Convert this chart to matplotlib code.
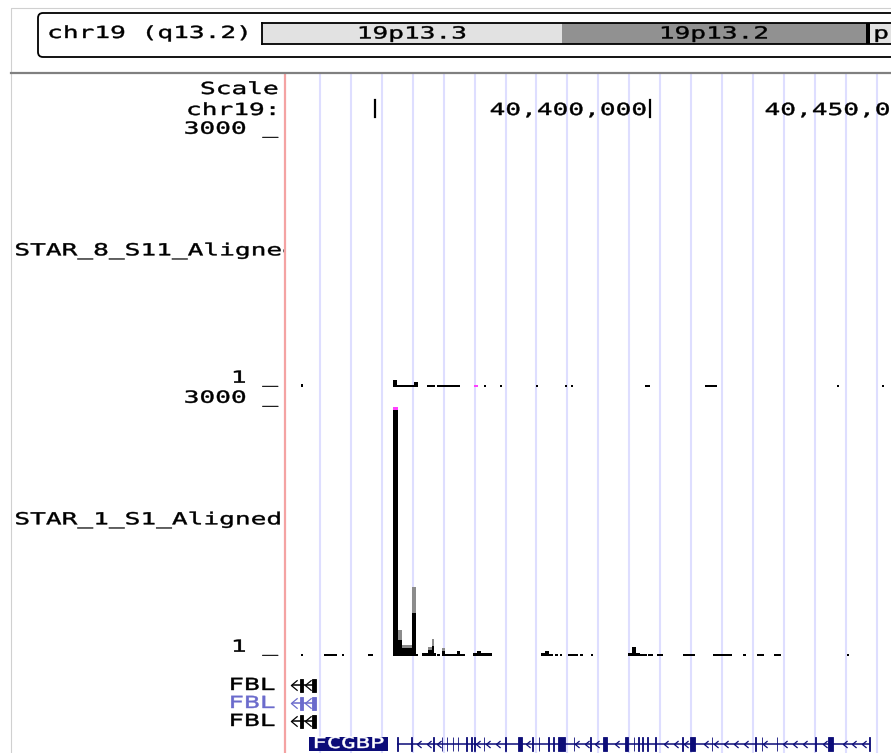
import numpy as np
import matplotlib
matplotlib.use("Agg")
import matplotlib.pyplot as plt
import matplotlib.patheffects as pe
from matplotlib.patches import Rectangle, FancyBboxPatch
from matplotlib.path import Path
from matplotlib.transforms import Affine2D

# ---------------- data ----------------
# chr19 ideogram bands (Mb)
band_names = ["19p13.3", "19p13.2", "19p13.13", "19p13.12"]
band_start = [0.0, 6.9, 13.9, 14.0]
band_end = [6.9, 13.9, 14.0, 16.3]
band_stain = ["gneg", "gpos50", "gpos100", "gneg"]

# browser window (kb on chr19)
view_start = 40333.6
view_end = 40443.8
ruler_ticks = [40350000, 40400000, 40450000]

track_names = ["STAR_8_S11_Aligned", "STAR_1_S1_Aligned"]
view_limits = [1, 3000]

# STAR_8_S11 signal (kb start, kb end, value, clipped flag)
t1_start = [40336.5, 40353.3, 40353.9, 40357.0, 40359.5, 40361.3, 40368.0, 40369.8,
            40372.7, 40379.3, 40384.6, 40385.6, 40399.1, 40410.0, 40434.0, 40442.2]
t1_end = [40336.9, 40353.9, 40357.0, 40357.7, 40360.9, 40365.5, 40368.7, 40370.2,
          40373.1, 40379.6, 40384.9, 40386.0, 40400.0, 40412.2, 40434.4, 40442.5]
t1_val = [36, 85, 25, 60, 25, 25, 25, 25, 25, 25, 25, 25, 25, 25, 25, 25]
t1_flag = [0, 0, 0, 0, 0, 0, 1, 0, 0, 0, 0, 0, 0, 0, 0, 0]

# STAR_1_S1 signal (kb start, kb end, max in window, mean in window)
t2_start = [40336.5, 40340.7, 40344.0, 40348.7, 40353.3, 40354.2, 40354.9, 40356.7,
            40357.5, 40358.6, 40359.6, 40360.4, 40360.7, 40361.3, 40362.2, 40362.7,
            40364.9, 40365.5, 40367.8, 40368.6, 40369.3, 40380.2, 40380.9, 40381.6,
            40382.7, 40383.6, 40385.1, 40387.3, 40389.3, 40396.0, 40396.7, 40397.5,
            40398.2, 40399.6, 40401.3, 40406.0, 40411.5, 40416.9, 40419.5, 40422.5,
            40435.8]
t2_end = [40336.9, 40343.1, 40344.4, 40349.6, 40354.2, 40354.9, 40356.7, 40357.5,
          40357.8, 40359.6, 40360.4, 40360.7, 40361.1, 40361.8, 40362.7, 40364.9,
          40365.5, 40366.4, 40368.6, 40369.3, 40371.3, 40380.9, 40381.6, 40382.4,
          40383.3, 40384.0, 40386.9, 40387.7, 40389.7, 40396.7, 40397.5, 40398.2,
          40399.5, 40400.6, 40402.4, 40408.2, 40414.9, 40417.5, 40420.7, 40423.8,
          40436.2]
t2_max = [25, 25, 25, 25, 3100, 315, 133, 835, 25, 36, 109, 206, 36, 25, 97, 25,
          60, 25, 36, 60, 36, 36, 60, 25, 25, 25, 25, 25, 25, 36, 109, 36,
          25, 25, 25, 25, 25, 25, 25, 25, 25]
t2_mean = [25, 25, 25, 25, 3100, 194, 97, 520, 25, 36, 73, 121, 36, 25, 60, 25,
           60, 25, 36, 60, 36, 36, 60, 25, 25, 25, 25, 25, 25, 36, 109, 36,
           25, 25, 25, 25, 25, 25, 25, 25, 25]

# genes (kb)
fbl_span = [40334.9, 40339.3]
fbl_exon_start = [40336.3, 40338.5]
fbl_exon_end = [40336.8, 40339.3]
fbl_rows = ["FBL", "FBL", "FBL"]

fcgbp_span = [40353.95, 40440.0]
fcgbp_exon_start = [40353.95, 40356.6, 40360.6, 40362.1, 40363.0, 40364.1, 40364.97,
                    40366.5, 40367.4, 40368.0, 40369.7, 40373.6, 40375.9, 40378.5,
                    40379.7, 40381.5, 40382.4, 40383.3, 40386.1, 40389.1, 40391.5,
                    40395.5, 40397.0, 40397.8, 40398.5, 40399.4, 40400.9, 40405.8,
                    40407.3, 40411.2, 40419.1, 40420.3, 40423.0, 40430.0, 40432.4,
                    40439.8]
fcgbp_exon_end = [40354.1, 40356.7, 40360.7, 40362.2, 40363.1, 40364.2, 40365.1,
                  40366.6, 40367.5, 40368.1, 40369.8, 40373.7, 40376.7, 40378.6,
                  40379.8, 40381.6, 40382.5, 40384.5, 40386.2, 40389.2, 40392.1,
                  40395.9, 40397.1, 40397.9, 40398.6, 40399.5, 40401.0, 40405.9,
                  40408.1, 40411.3, 40419.2, 40420.4, 40423.1, 40430.1, 40433.3,
                  40440.0]

# ---------------- style ----------------
FIG_W, FIG_H = 891, 753
FONT = "DejaVu Sans Mono"
STRETCH = 1.57
stain_color = {"gneg": "#e2e2e2", "gpos25": "#c8c8c8", "gpos50": "#919191", "gpos100": "#000000"}
GUIDE = "#dedeff"
NAVY = "#0c0c78"


class Stretch(pe.AbstractPathEffect):
    # UCSC font is wide and a bit heavy: widen glyphs around the anchor, add a thin outline
    def __init__(self, sx, anchor="left"):
        super().__init__()
        self.sx = sx
        self.anchor = anchor

    def draw_path(self, renderer, gc, tpath, affine, rgbFace=None):
        ext = tpath.get_extents()
        x0 = {"left": ext.x0, "right": ext.x1, "center": 0.5 * (ext.x0 + ext.x1)}[self.anchor]
        t = Affine2D().translate(-x0, 0).scale(self.sx, 1).translate(x0, 0) + affine
        gc0 = renderer.new_gc()
        gc0.copy_properties(gc)
        gc0.set_linewidth(0.3)
        gc0.set_foreground(rgbFace)
        renderer.draw_path(gc0, tpath, t, rgbFace)
        gc0.restore()


def label(ax, x, y, s, ha="left", size=12, color="black", **kw):
    return ax.text(x, y, s, ha=ha, va="center", family=FONT, fontsize=size, color=color,
                   path_effects=[Stretch(STRETCH, ha)], **kw)


def px_axes(x0, y0, x1, y1):
    a = fig.add_axes([x0 / FIG_W, 1 - y1 / FIG_H, (x1 - x0) / FIG_W, (y1 - y0) / FIG_H])
    a.set_facecolor("none")
    return a


fig = plt.figure(figsize=(FIG_W / 100, FIG_H / 100), dpi=100)

# base layer in pixel coords
ax = fig.add_axes([0, 0, 1, 1])
ax.set_xlim(0, FIG_W)
ax.set_ylim(FIG_H, 0)
ax.axis("off")

# header frame
ax.plot([11, 11, FIG_W], [FIG_H, 8, 8], color="#d0d0d0", lw=0.8)
ax.plot([11, FIG_W], [72.5, 72.5], color="#808080", lw=1.6)
ax.add_patch(FancyBboxPatch((38, 13), 900, 44, boxstyle="round,pad=0,rounding_size=5",
                            fc="white", ec="black", lw=1.3))
label(ax, 48, 33, "chr19 (q13.2)")

# guides + red line
for gxp in np.arange(320, FIG_W, 30.92):
    ax.plot([gxp, gxp], [75, FIG_H], color=GUIDE, lw=1.5, zorder=0)
ax.plot([285, 285], [75, FIG_H], color="#f4a3a3", lw=1.6, zorder=1)

# ideogram
ix = px_axes(262, 23, FIG_W, 44)
ix.set_xlim(0, (FIG_W - 262) / 43.46)
ix.set_ylim(0, 1)
ix.barh(0.5, np.subtract(band_end, band_start), left=band_start, height=1,
        color=[stain_color[s] for s in band_stain])
for name, s, e, st in zip(band_names, band_start, band_end, band_stain):
    bw = (e - s) * 43.46
    txt = name if len(name) * 15.6 < bw else (name[2:] if len(name[2:]) * 15.6 < bw else "")
    if txt:
        label(ix, (s + e) / 2, 0.5, txt, ha="center", clip_on=True,
              color="white" if st == "gpos100" else "black")
ix.set_xticks([])
ix.set_yticks([])
for side in ["top", "bottom", "left"]:
    ix.spines[side].set_linewidth(1.3)
ix.spines["right"].set_visible(False)

# genome axes (ruler and genes), y in pixels
gx = px_axes(285, 75, FIG_W, FIG_H)
gx.set_xlim(view_start * 1000, view_end * 1000)
gx.set_ylim(FIG_H, 75)
gx.axis("off")

label(ax, 278, 89, "Scale", ha="right")
label(ax, 278, 110, "chr19:", ha="right")
kb_per_px = (view_end - view_start) / (FIG_W - 285)
for t in ruler_ticks:
    gx.plot([t, t], [100, 117], color="black", lw=1.6, clip_on=False)
    s = f"{t:,}"
    left_kb = t / 1000 - (4 + len(s) * 15.6) * kb_per_px
    if left_kb > view_start:
        label(gx, t - 4 * kb_per_px * 1000, 110, s, ha="right")

# signal tracks
tops = [138, 407]
bottoms = [387, 656]
clip = Rectangle((0, 0), 284, FIG_H, transform=ax.transData)
for i, name in enumerate(track_names):
    top, bot = tops[i], bottoms[i]
    label(ax, 278, top - 9, f"{view_limits[1]} _", ha="right")
    label(ax, 278, bot - 9, f"{view_limits[0]} _", ha="right")
    t = label(ax, 15, (top + bot) / 2 - 12, name, ha="left", clip_on=True)
    t.set_clip_path(clip)

t1ax = px_axes(285, tops[0], FIG_W, bottoms[0])
t2ax = px_axes(285, tops[1], FIG_W, bottoms[1])
for a in (t1ax, t2ax):
    a.set_xlim(view_start, view_end)
    a.set_ylim(0, view_limits[1])
    a.axis("off")

w1 = np.subtract(t1_end, t1_start)
c1 = ["#ff40ff" if f else "black" for f in t1_flag]
t1ax.bar(t1_start, t1_val, width=w1, align="edge", color=c1, lw=0)

w2 = np.subtract(t2_end, t2_start)
t2ax.bar(t2_start, t2_max, width=w2, align="edge", color="#8c8c8c", lw=0)
t2ax.bar(t2_start, t2_mean, width=w2, align="edge", color="black", lw=0)
for s, wd, m in zip(t2_start, w2, t2_max):
    if m > view_limits[1]:
        t2ax.bar(s, 40, bottom=view_limits[1] - 40, width=wd, align="edge", color="#ff40ff", lw=0)

# genes
chev = Path([(0.6, 1.0), (-0.6, 0.0), (0.6, -1.0)], [Path.MOVETO, Path.LINETO, Path.LINETO])


def draw_gene(y, span, ex_s, ex_e, color, h, step, ms):
    gx.plot(np.multiply(span, 1000), [y, y], color=color, lw=1.1, solid_capstyle="butt")
    w = np.maximum(np.subtract(ex_e, ex_s), 0.12) * 1000
    gx.bar(np.multiply(ex_s, 1000), h, width=w, bottom=y - h / 2, align="edge",
           color=color, ec=color, lw=0.6)
    xs = []
    for x in np.arange(span[0] + 0.4, span[1], step):
        if all(x < s - 0.5 or x > e + 0.5 for s, e in zip(ex_s, ex_e)):
            xs.append(x * 1000)
    gx.plot(xs, [y] * len(xs), ls="none", marker=chev, ms=ms, mfc="none", mec=color, mew=0.9)


fbl_colors = ["black", "#6b6bcc", "black"]
for k, (nm, col) in enumerate(zip(fbl_rows, fbl_colors)):
    y = 685 + 18 * k
    label(ax, 275, y, nm, ha="right", color=col)
    draw_gene(y, fbl_span, fbl_exon_start, fbl_exon_end, col, 13, 2.4, 7.5)

draw_gene(743.5, fcgbp_span, fcgbp_exon_start, fcgbp_exon_end, NAVY, 14, 1.8, 5)
ax.add_patch(Rectangle((309, 736.5), 79, 14, fc=NAVY, ec=NAVY, lw=0))
label(ax, 348.5, 743.5, "FCGBP", ha="center", color="white", size=11)

fig.savefig("out.png", dpi=100)
